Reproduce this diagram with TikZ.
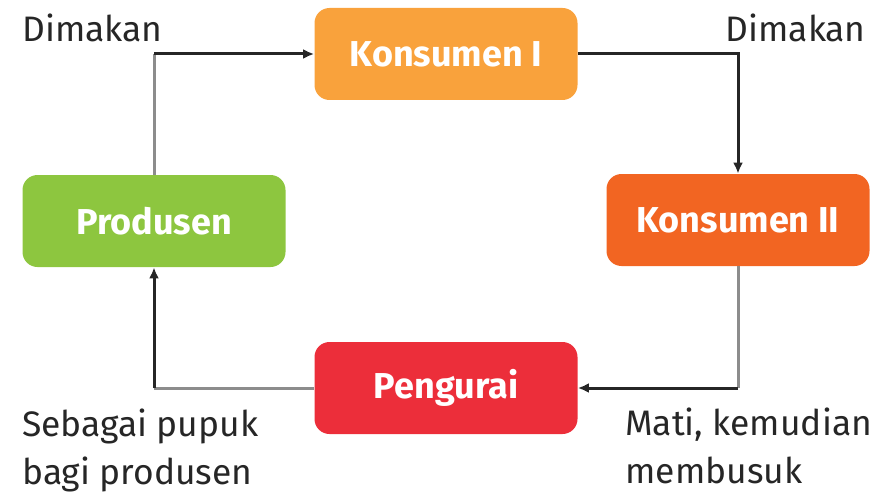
\documentclass[tikz,border=0pt]{standalone}
\usepackage{fontspec}
\setmainfont{Fira Sans}
\usetikzlibrary{arrows.meta}
\definecolor{hijau}{HTML}{8DC63F}
\definecolor{jingga}{HTML}{F9A23C}
\definecolor{jinggatua}{HTML}{F26522}
\definecolor{merah}{HTML}{EC2E3A}
\begin{document}
\begin{tikzpicture}[x=0.5pt,y=-0.5pt,
    kotak/.style={rounded corners=7.5pt, minimum width=131.5pt, minimum height=46pt,
        inner sep=0pt, text=white, font=\fontsize{18}{21}\selectfont\bfseries},
    teks/.style={font=\fontsize{17.7}{24}\selectfont, align=left, text=black!85, inner sep=0pt},
    abu/.style={draw=black!45, line width=1.5pt},
    panah/.style={draw=black!85, line width=1.5pt, -{Latex[length=5.5pt,width=5pt]}}]
    \useasboundingbox (0,0) rectangle (872,492);
    \node[kotak, fill=jingga] (k1) at (446,54) {Konsumen I};
    \node[kotak, fill=jinggatua] (k2) at (738,220) {Konsumen II};
    \node[kotak, fill=hijau] (prod) at (154,221) {Produsen};
    \node[kotak, fill=merah] (urai) at (446,388) {Pengurai};
    % garis
    \coordinate (t1) at (prod.north |- k1.west);
    \coordinate (t2) at (k2.north |- k1.east);
    \coordinate (t3) at (k2.south |- urai.east);
    \coordinate (t4) at (prod.south |- urai.west);
    \draw[abu] (prod.north) -- (t1);
    \draw[panah] (t1) -- (k1.west);
    \draw[panah] (k1.east) -- (t2) -- (k2.north);
    \draw[abu] (k2.south) -- (t3);
    \draw[panah] (t3) -- (urai.east);
    \draw[abu] (urai.west) -- (t4);
    \draw[panah] (t4) -- (prod.south);
    % keterangan
    \node[teks, anchor=base west] (d1) at (22,42) {Dimakan};
    \node[teks, anchor=base east] (d2) at (866,42) {Dimakan};
    \node[teks, anchor=base west] (pupuk) at (22,484) {Sebagai pupuk\\bagi produsen};
    \node[teks, anchor=base west] (mati) at (625,483) {Mati, kemudian\\membusuk};
\end{tikzpicture}
\end{document}
